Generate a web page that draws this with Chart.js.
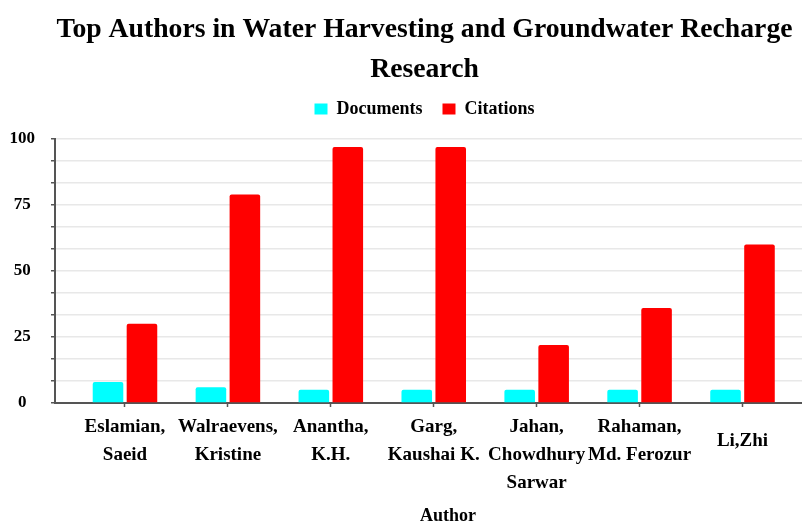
<!DOCTYPE html>
<html>
<head>
<meta charset="utf-8">
<script src="https://cdn.jsdelivr.net/npm/chart.js@4.4.1/dist/chart.umd.min.js"></script>
<style>
  html, body { margin: 0; padding: 0; background: #fff; overflow: hidden; width: 802px; height: 524px; }
  #wrap { position: absolute; left: 0; top: 0; width: 844px; height: 524px; }
</style>
</head>
<body>
<div id="wrap"><canvas id="c"></canvas></div>
<script>
const chartTitle = ["Top Authors in Water Harvesting and Groundwater Recharge", "Research"];
const authors = [
  ["Eslamian,", "Saeid"],
  ["Walraevens,", "Kristine"],
  ["Anantha,", "K.H."],
  ["Garg,", "Kaushai K."],
  ["Jahan,", "Chowdhury", "Sarwar"],
  ["Rahaman,", "Md. Ferozur"],
  ["Li,Zhi"]
];
const documents = [8, 6, 5, 5, 5, 5, 5];
const citations = [30, 79, 97, 97, 22, 36, 60];
const seriesNames = ["Documents", "Citations"];
const yLabelledTicks = [0, 25, 50, 75, 100];
const yMinorPerStep = 3;
const xAxisTitle = "Author";

const FAM = '"Liberation Serif", "Times New Roman", serif';
const toPoints = arr => arr.map((v, i) => ({ x: i, y: v }));

const yStep = (yLabelledTicks[1] - yLabelledTicks[0]) / yMinorPerStep;
const yMax = yLabelledTicks[yLabelledTicks.length - 1];

const legendSpacer = {
  id: 'legendSpacer',
  beforeInit(chart) {
    const lg = chart.legend;
    if (!lg) return;
    const origFit = lg.fit;
    lg.fit = function () { origFit.call(this); this.height += 11; };
  }
};

new Chart(document.getElementById('c'), {
  type: 'bar',
  plugins: [legendSpacer],
  data: {
    datasets: [
      { label: seriesNames[0], data: toPoints(documents), backgroundColor: '#00FFFF', borderRadius: 2,
        barPercentage: 0.9, categoryPercentage: 0.66 },
      { label: seriesNames[1], data: toPoints(citations), backgroundColor: '#FF0000', borderRadius: 2,
        barPercentage: 0.9, categoryPercentage: 0.66 }
    ]
  },
  options: {
    responsive: true,
    maintainAspectRatio: false,
    animation: false,
    layout: { padding: { left: 8, right: 3, top: 0, bottom: 0 } },
    plugins: {
      title: {
        display: true,
        text: chartTitle,
        color: '#000',
        font: { family: FAM, size: 27.7, weight: 'bold', lineHeight: 40 / 27.7 },
        padding: { top: 10, bottom: -10 }
      },
      legend: {
        display: true,
        labels: {
          color: '#000',
          boxWidth: 13,
          boxHeight: 11,
          padding: 20,
          font: { family: FAM, size: 18, weight: 'bold' }
        }
      },
      tooltip: { enabled: false }
    },
    scales: {
      x: {
        type: 'linear',
        offset: false,
        min: -0.68,
        max: 6.957,
        afterBuildTicks: s => { s.ticks = authors.map((_, i) => ({ value: i })); },
        afterFit: s => { s.height = 121; },
        grid: { display: true, offset: false, drawOnChartArea: false, tickLength: 4, tickColor: '#555', tickWidth: 1.5 },
        border: { display: true, color: '#555', width: 2 },
        ticks: {
          autoSkip: false,
          maxRotation: 0,
          padding: 6,
          color: '#000',
          callback: (v) => authors[Math.round(v)] || '',
          font: (ctx) => {
            const lbl = authors[ctx.index] || [];
            const lh = 28 / 19;
            return { family: FAM, size: 19, weight: 'bold', lineHeight: lbl.length === 1 ? lh * 2 : lh };
          }
        },
        title: {
          display: true,
          text: xAxisTitle,
          color: '#000',
          font: { family: FAM, size: 18, weight: 'bold', lineHeight: 0.8 },
          padding: { top: 0, bottom: 0 }
        }
      },
      y: {
        min: 0,
        max: yMax,
        afterBuildTicks: s => {
          const t = [];
          for (let i = 0; i <= (yLabelledTicks.length - 1) * yMinorPerStep; i++) t.push({ value: i * yStep });
          s.ticks = t;
        },
        afterFit: s => { s.width = 47; },
        grid: { color: '#e8e8e8', lineWidth: 1.5, tickLength: 4, tickColor: '#555', tickWidth: 1.5 },
        border: { display: true, color: '#555', width: 2 },
        ticks: {
          autoSkip: false,
          crossAlign: 'center',
          padding: 16,
          color: '#000',
          font: { family: FAM, size: 17, weight: 'bold' },
          callback: (v) => {
            const hit = yLabelledTicks.find(t => Math.abs(t - v) < 1e-6);
            return hit === undefined ? '' : String(hit);
          }
        }
      }
    }
  }
});
</script>
</body>
</html>
